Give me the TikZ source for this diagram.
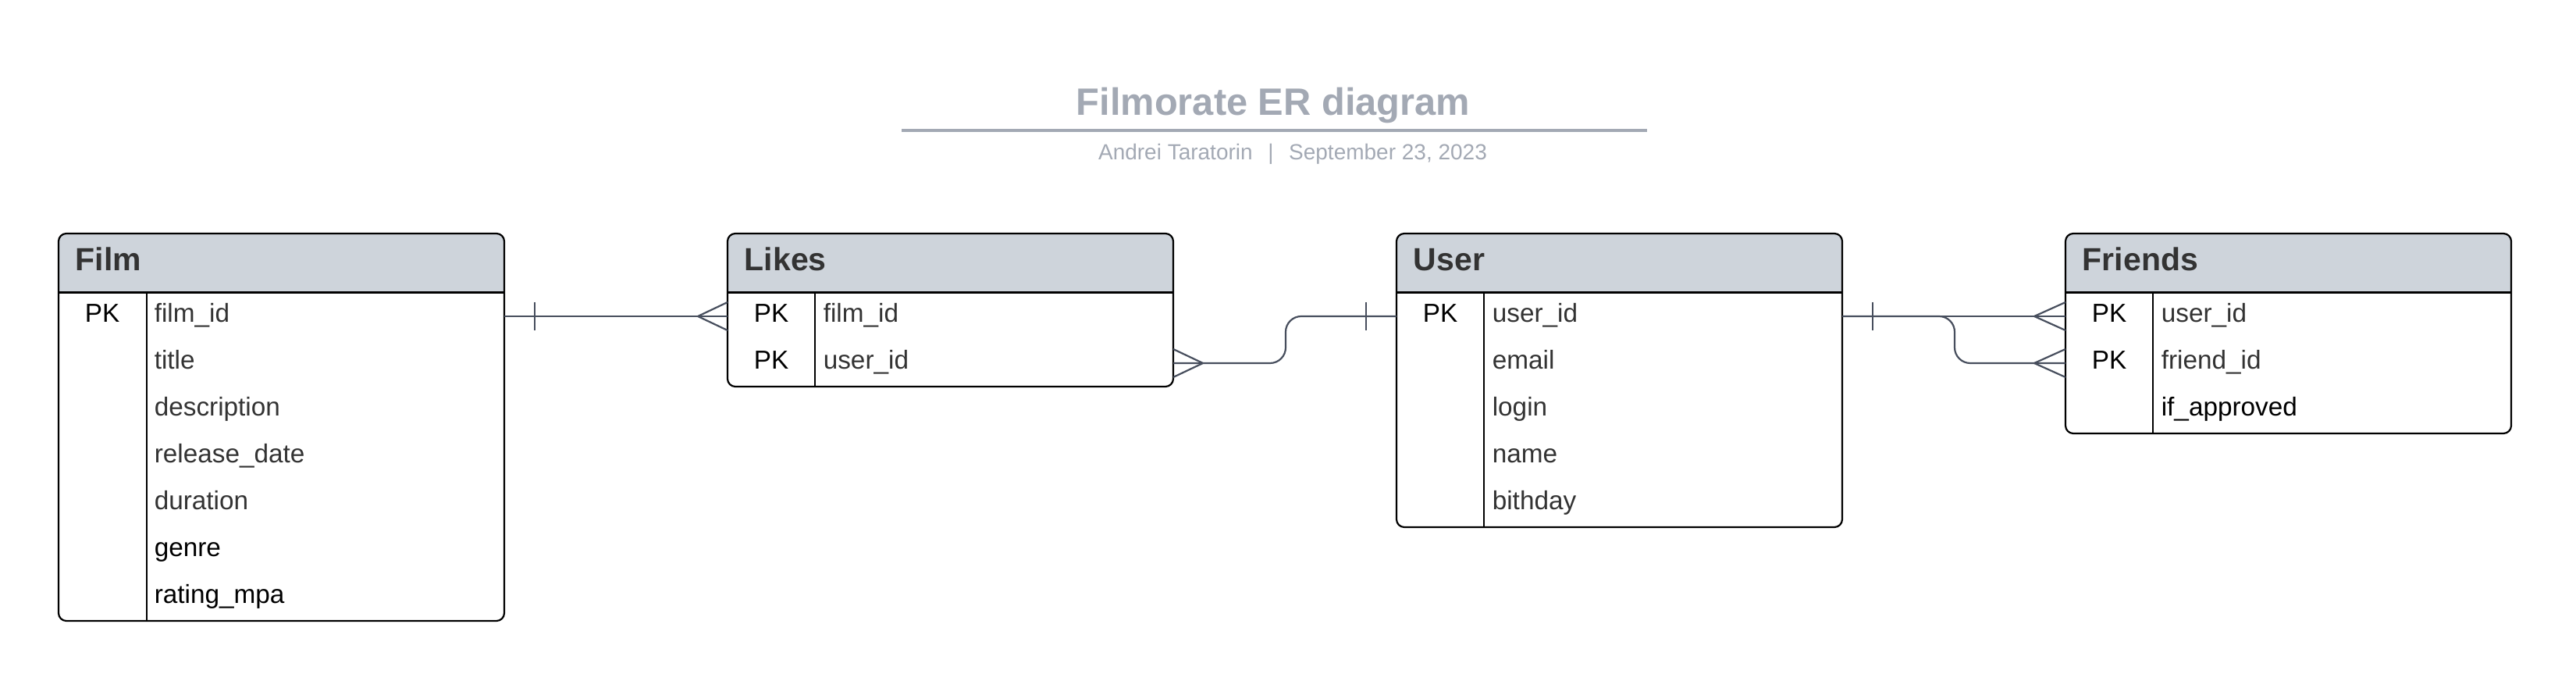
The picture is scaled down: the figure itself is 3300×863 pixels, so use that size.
\documentclass[tikz,border=0pt]{standalone}
\usepackage{fontspec}
\setmainfont{Liberation Sans}
\usetikzlibrary{calc}
\definecolor{hdrfill}{RGB}{206,212,219}
\definecolor{hdrtext}{RGB}{51,51,51}
\definecolor{fieldgray}{RGB}{51,51,51}
\definecolor{titlegray}{RGB}{163,169,180}
\definecolor{conncolor}{RGB}{71,78,93}
\tikzset{
  tablebox/.style={inner sep=0pt, outer sep=0pt, minimum width=142.75pt, anchor=north west},
  boxline/.style={draw=black, line width=0.55pt, rounded corners=2.5pt},
  hdrsep/.style={draw=black, line width=0.75pt},
  coldiv/.style={draw=black, line width=0.4pt},
  hdrtitle/.style={anchor=base west, inner sep=0pt, text=hdrtext, font=\fontsize{10.25pt}{12pt}\selectfont\bfseries},
  fieldtext/.style={anchor=west, inner sep=0pt, text height=6.5pt, text depth=2.5pt, text=fieldgray, font=\fontsize{8.33pt}{10pt}\selectfont},
  blacktext/.style={fieldtext, text=black},
  pktext/.style={anchor=center, inner sep=0pt, text height=6.5pt, text depth=2.5pt, text=black, font=\fontsize{8.33pt}{10pt}\selectfont},
  conn/.style={draw=conncolor, line width=0.55pt},
  tickmark/.style={draw=conncolor, line width=0.4pt},
}
\begin{document}
\begin{tikzpicture}[x=0.25pt,y=-0.25pt]
\useasboundingbox (0,0) rectangle (3300,863);

% ---------- title ----------
\node[anchor=base, inner sep=0pt, text=titlegray, font=\fontsize{12.2pt}{14pt}\selectfont\bfseries] (title) at (1631,148) {Filmorate ER diagram};
\draw[titlegray, line width=0.9pt] (1155,167) -- (2110,167);
\node[anchor=base, inner sep=0pt, text=titlegray, font=\fontsize{7pt}{8pt}\selectfont] (subtitle) at (1656,205) {Andrei Taratorin\hspace{4.9pt}|\hspace{4.9pt}September 23, 2023};

% Film
\node[tablebox, minimum height=124pt] (film) at (75,299) {};
\begin{scope}
  \clip[rounded corners=2.5pt] (film.north west) rectangle (film.south east);
  \fill[hdrfill] (film.north west) rectangle ($(film.north east)+(0,76)$);
\end{scope}
\draw[hdrsep] ($(film.north west)+(0,76)$) -- ($(film.north east)+(0,76)$);
\draw[coldiv] ($(film.north west)+(113,76)$) -- ($(film.south west)+(113,0)$);
\draw[boxline] (film.north west) rectangle (film.south east);
\node[hdrtitle] (film-h) at (96,347) {Film};
\node[pktext] (film-pk1) at (131,405) {PK};
\node[fieldtext] (film-f1) at (197,405) {film\_id};
\node[fieldtext] (film-f2) at (197,465) {title};
\node[fieldtext] (film-f3) at (197,525) {description};
\node[fieldtext] (film-f4) at (197,585) {release\_date};
\node[fieldtext] (film-f5) at (197,645) {duration};
\node[blacktext] (film-f6) at (197,705) {genre};
\node[blacktext] (film-f7) at (197,765) {rating\_mpa};

% Likes
\node[tablebox, minimum height=49pt] (likes) at (932,299) {};
\begin{scope}
  \clip[rounded corners=2.5pt] (likes.north west) rectangle (likes.south east);
  \fill[hdrfill] (likes.north west) rectangle ($(likes.north east)+(0,76)$);
\end{scope}
\draw[hdrsep] ($(likes.north west)+(0,76)$) -- ($(likes.north east)+(0,76)$);
\draw[coldiv] ($(likes.north west)+(112,76)$) -- ($(likes.south west)+(112,0)$);
\draw[boxline] (likes.north west) rectangle (likes.south east);
\node[hdrtitle] (likes-h) at (953,347) {Likes};
\node[pktext] (likes-pk1) at (988,405) {PK};
\node[pktext] (likes-pk2) at (988,465) {PK};
\node[fieldtext] (likes-f1) at (1054,405) {film\_id};
\node[fieldtext] (likes-f2) at (1054,465) {user\_id};

% User
\node[tablebox, minimum height=94pt] (user) at (1789,299) {};
\begin{scope}
  \clip[rounded corners=2.5pt] (user.north west) rectangle (user.south east);
  \fill[hdrfill] (user.north west) rectangle ($(user.north east)+(0,76)$);
\end{scope}
\draw[hdrsep] ($(user.north west)+(0,76)$) -- ($(user.north east)+(0,76)$);
\draw[coldiv] ($(user.north west)+(112,76)$) -- ($(user.south west)+(112,0)$);
\draw[boxline] (user.north west) rectangle (user.south east);
\node[hdrtitle] (user-h) at (1810,347) {User};
\node[pktext] (user-pk1) at (1845,405) {PK};
\node[fieldtext] (user-f1) at (1911,405) {user\_id};
\node[fieldtext] (user-f2) at (1911,465) {email};
\node[fieldtext] (user-f3) at (1911,525) {login};
\node[fieldtext] (user-f4) at (1911,585) {name};
\node[fieldtext] (user-f5) at (1911,645) {bithday};

% Friends
\node[tablebox, minimum height=64pt] (friends) at (2646,299) {};
\begin{scope}
  \clip[rounded corners=2.5pt] (friends.north west) rectangle (friends.south east);
  \fill[hdrfill] (friends.north west) rectangle ($(friends.north east)+(0,76)$);
\end{scope}
\draw[hdrsep] ($(friends.north west)+(0,76)$) -- ($(friends.north east)+(0,76)$);
\draw[coldiv] ($(friends.north west)+(112,76)$) -- ($(friends.south west)+(112,0)$);
\draw[boxline] (friends.north west) rectangle (friends.south east);
\node[hdrtitle] (friends-h) at (2667,347) {Friends};
\node[pktext] (friends-pk1) at (2702,405) {PK};
\node[pktext] (friends-pk2) at (2702,465) {PK};
\node[fieldtext] (friends-f1) at (2768,405) {user\_id};
\node[fieldtext] (friends-f2) at (2768,465) {friend\_id};
\node[blacktext] (friends-f3) at (2768,525) {if\_approved};

% ---------- connectors ----------
\coordinate (fA) at (film.east |- film-f1);
\coordinate (lA) at (likes.west |- likes-f1);
\coordinate (lB) at (likes.east |- likes-f2);
\coordinate (uA) at (user.west |- user-f1);
\coordinate (uB) at (user.east |- user-f1);
\coordinate (rA) at (friends.west |- friends-f1);
\coordinate (rB) at (friends.west |- friends-f2);

% Film -- Likes
\draw[conn] (fA) -- (lA);
\draw[tickmark] ($(fA)+(39,-18)$) -- ($(fA)+(39,18)$);
\draw[conn] ($(lA)+(0,-18)$) -- ($(lA)+(-38,0)$) -- ($(lA)+(0,18)$);

% Likes -- User
\draw[conn, rounded corners=5pt] (lB) -- ++(144,0) |- (uA);
\draw[conn] ($(lB)+(0,-18)$) -- ($(lB)+(38,0)$) -- ($(lB)+(0,18)$);
\draw[tickmark] ($(uA)+(-39,-18)$) -- ($(uA)+(-39,18)$);

% User -- Friends (user_id)
\draw[conn] (uB) -- (rA);
\draw[tickmark] ($(uB)+(39,-18)$) -- ($(uB)+(39,18)$);
\draw[conn] ($(rA)+(0,-18)$) -- ($(rA)+(-40,0)$) -- ($(rA)+(0,18)$);

% User -- Friends (friend_id)
\draw[conn, rounded corners=5pt] (uB) -- ++(144,0) |- (rB);
\draw[conn] ($(rB)+(0,-18)$) -- ($(rB)+(-40,0)$) -- ($(rB)+(0,18)$);

\end{tikzpicture}
\end{document}
